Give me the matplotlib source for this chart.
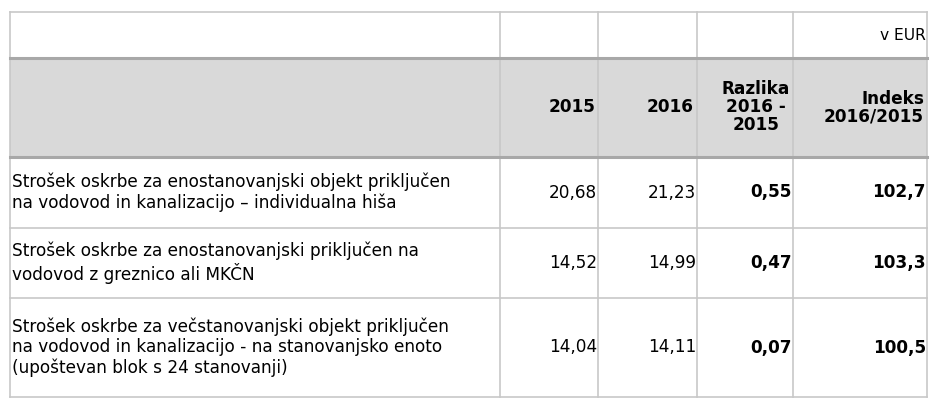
import matplotlib
matplotlib.use('Agg')
import matplotlib.pyplot as plt
from matplotlib.patches import Rectangle

# table contents
row_labels = [
    'Strošek oskrbe za enostanovanjski objekt priključen\nna vodovod in kanalizacijo – individualna hiša',
    'Strošek oskrbe za enostanovanjski priključen na\nvodovod z greznico ali MKČN',
    'Strošek oskrbe za večstanovanjski objekt priključen\nna vodovod in kanalizacijo - na stanovanjsko enoto\n(upoštevan blok s 24 stanovanji)',
]
val_2015 = ['20,68', '14,52', '14,04']
val_2016 = ['21,23', '14,99', '14,11']
razlika = ['0,55', '0,47', '0,07']
indeks = ['102,7', '103,3', '100,5']
headers = ['', '2015', '2016', 'Razlika\n2016 -\n2015', 'Indeks\n2016/2015']

W, H = 940, 413
fig = plt.figure(figsize=(W / 100, H / 100), dpi=100)
ax = fig.add_axes([0, 0, 1, 1])
ax.set_xlim(0, W)
ax.set_ylim(H, 0)
ax.axis('off')

xs = [10, 500, 598, 697, 793, 927]
ys = [12, 58, 157, 228, 298, 397]
grid = '#c8c8c8'
fs = 12.2

# header fill
ax.add_patch(Rectangle((xs[0], ys[1]), xs[-1] - xs[0], ys[2] - ys[1],
                       facecolor='#d9d9d9', edgecolor='none'))
for x in xs:
    ax.plot([x, x], [ys[0], ys[-1]], color=grid, lw=1.2)
for i, y in enumerate(ys):
    thick = i in (1, 2)
    ax.plot([xs[0], xs[-1]], [y, y], color='#a8a8a8' if thick else grid,
            lw=2.2 if thick else 1.2)

ax.text(xs[-1] - 1, (ys[0] + ys[1]) / 2, 'v EUR', ha='right', va='center',
        fontsize=fs - 1)
for j, h in enumerate(headers):
    if not h:
        continue
    ax.text(xs[j + 1] - 3, (ys[1] + ys[2]) / 2, h, ha='right', va='center',
            fontsize=fs, fontweight='bold',
            multialignment='center' if j == 3 else 'right', linespacing=1.0)

for i in range(3):
    yc = (ys[i + 2] + ys[i + 3]) / 2
    ax.text(xs[0] + 2, yc, row_labels[i], ha='left', va='center',
            fontsize=fs, linespacing=1.15)
    for j, (col, bold) in enumerate([(val_2015, False), (val_2016, False),
                                     (razlika, True), (indeks, True)]):
        ax.text(xs[j + 2] - 1, yc, col[i], ha='right', va='center',
                fontsize=fs, fontweight='bold' if bold else 'normal')

fig.savefig('out.png', dpi=100)
